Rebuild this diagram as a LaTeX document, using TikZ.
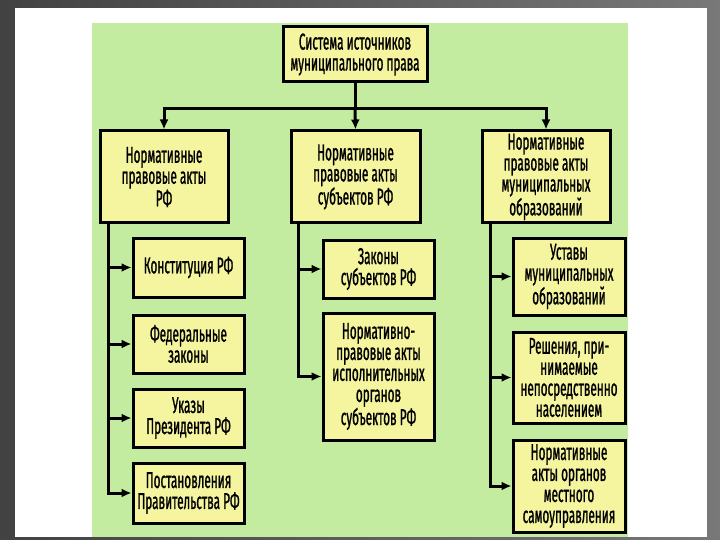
\documentclass[tikz,border=0pt]{standalone}
\usepackage{fontspec}
\setmainfont{Fira Sans}[FakeStretch=0.51,FakeBold=1]
\usetikzlibrary{arrows.meta,positioning}
\definecolor{slidegray}{RGB}{66,66,66}
\definecolor{slidelight}{RGB}{120,120,120}
\definecolor{leaf}{RGB}{196,236,160}
\definecolor{paper}{RGB}{245,245,160}
\tikzset{
	box/.style={draw=black,fill=paper,line width=3pt,align=center,inner sep=1pt,
		font=\fontsize{23}{21}\selectfont},
	link/.style={line width=3pt,-{Latex[length=10pt,width=9pt]}},
}
\begin{document}
\begin{tikzpicture}[x=1pt,y=-1pt]
	\useasboundingbox (0,0) rectangle (720,540);
	% slide
	\shade[left color=slidegray,right color=slidelight] (0,0) rectangle (720,540);
	\fill[white] (15,8) rectangle (707,537);
	\fill[leaf] (92,23) rectangle (628,537);
	
	\node[box,minimum width=144,minimum height=55] (sys) at (355,54.5) {Система источников\\муниципального права};
	
	\node[box,minimum width=128,minimum height=92] (rf) at (164,177) {Нормативные\\правовые акты\\РФ};
	\node[box,minimum width=129,minimum height=92] (subj) at (355.5,177) {Нормативные\\правовые акты\\субъектов РФ};
	\node[box,minimum width=128,minimum height=92] (mun) at (546,177) {Нормативные\\правовые акты\\муниципальных\\образований};
	
	\node[box,minimum width=111,minimum height=59] (konst) at (188.5,267.5) {Конституция РФ};
	\node[box,minimum width=111,minimum height=58] (fz) at (188.5,344) {Федеральные\\законы};
	\node[box,minimum width=111,minimum height=58] (ukaz) at (188.5,418) {Указы\\Президента РФ};
	\node[box,minimum width=111,minimum height=60] (post) at (188.5,493) {Постановления\\Правительства РФ};
	
	\node[box,minimum width=111,minimum height=58] (zak) at (378.5,269) {Законы\\субъектов РФ};
	\node[box,minimum width=111,minimum height=127] (isp) at (378.5,376.5) {Нормативно-\\правовые акты\\исполнительных\\органов\\субъектов РФ};
	
	\node[box,minimum width=112,minimum height=77] (ust) at (569,276.5) {Уставы\\муниципальных\\образований};
	\node[box,minimum width=112,minimum height=91] (resh) at (569,377.5) {Решения, при-\\нимаемые\\непосредственно\\населением};
	\node[box,minimum width=112,minimum height=92] (mest) at (569,486) {Нормативные\\акты органов\\местного\\самоуправления};
	
	% top level
	\draw[line width=3pt] (sys.south) -- ++(0,25) coordinate (hub);
	\draw[link] (hub) -| (rf.north);
	\draw[link] (hub) -- (subj.north);
	\draw[link] (hub) -| (mun.north);
	
	% branches
	\foreach \k in {konst,fz,ukaz,post}{
		\draw[link] ([xshift=10]rf.south west) |- (\k.west);}
	\foreach \k in {zak,isp}{
		\draw[link] ([xshift=9]subj.south west) |- (\k.west);}
	\foreach \k in {ust,resh,mest}{
		\draw[link] ([xshift=10]mun.south west) |- (\k.west);}
	
\end{tikzpicture}
\end{document}
